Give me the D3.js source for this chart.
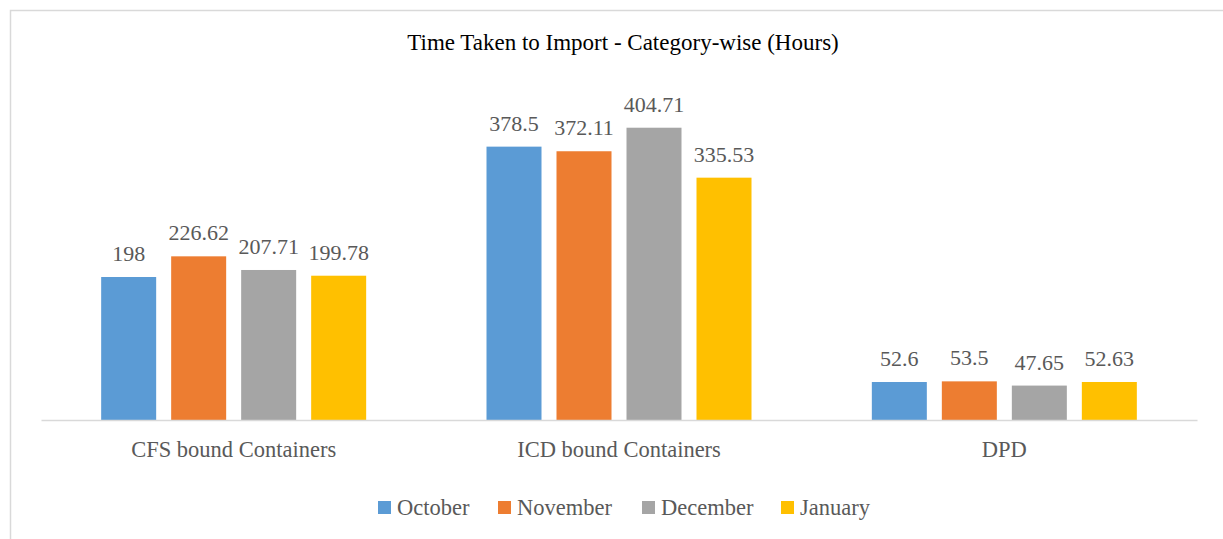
<!DOCTYPE html>
<html>
<meta charset="utf-8">
<style>
body { margin: 0; background: #fff; }
text { font-family: 'Liberation Serif', 'DejaVu Serif', serif; }
.value { fill: #595959; font-size: 22px; text-anchor: middle; }
.cat { fill: #595959; font-size: 22.5px; text-anchor: middle; }
.legend text { fill: #595959; font-size: 22.5px; }
</style>
<body>
<svg id="chart" width="1223" height="539"></svg>
<script src="https://d3js.org/d3.v7.min.js"></script>
<script>

var categories = ["CFS bound Containers", "ICD bound Containers", "DPD"];
var months = ["October", "November", "December", "January"];
var colors = ["#5b9bd5", "#ed7d31", "#a5a5a5", "#ffc000"];
// hours, one array per month, in category order
var october  = [198, 378.5, 52.6];
var november = [226.62, 372.11, 53.5];
var december = [207.71, 404.71, 47.65];
var january  = [199.78, 335.53, 52.63];
var labels = {
    October: ["198", "378.5", "52.6"],
    November: ["226.62", "372.11", "53.5"],
    December: ["207.71", "404.71", "47.65"],
    January: ["199.78", "335.53", "52.63"]
};

var series = [october, november, december, january];

var svg = d3.select("#chart"),
    margin = {left: 41, right: 26, top: 95, bottom: 119},
    width = +svg.attr("width") - margin.left - margin.right,
    height = +svg.attr("height") - margin.top - margin.bottom;

// chart area border
svg.append("rect")
    .attr("x", 10.5).attr("y", 10.5)
    .attr("width", 1230).attr("height", 560)
    .attr("fill", "none")
    .attr("stroke", "#d9d9d9")
    .attr("stroke-width", 1.5);

var x0 = d3.scaleBand().domain(categories).range([0, width]);
var x1 = d3.scaleBand().domain(months).range([0, 265]).paddingInner(15 / 70);
var y = d3.scaleLinear().domain([0, 450]).range([height, 0]);

var g = svg.append("g")
    .attr("transform", "translate(" + margin.left + "," + margin.top + ")");

var groupOffset = (x0.bandwidth() - 265) / 2;

var group = g.selectAll(".group")
    .data(categories)
    .enter().append("g")
    .attr("transform", function(d) { return "translate(" + (x0(d) + groupOffset) + ",0)"; });

group.selectAll("rect")
    .data(function(c, i) { return months.map(function(m, j) { return {m: m, v: series[j][i], l: labels[m][i], c: colors[j]}; }); })
    .enter().append("rect")
    .attr("x", function(d) { return x1(d.m); })
    .attr("y", function(d) { return y(d.v); })
    .attr("width", x1.bandwidth())
    .attr("height", function(d) { return height - y(d.v); })
    .attr("fill", function(d) { return d.c; });

group.selectAll(".value")
    .data(function(c, i) { return months.map(function(m, j) { return {m: m, v: series[j][i], l: labels[m][i]}; }); })
    .enter().append("text")
    .attr("class", "value")
    .attr("x", function(d) { return x1(d.m) + x1.bandwidth() / 2; })
    .attr("y", function(d) { return y(d.v) - 16; })
    .text(function(d) { return d.l; });

// axis
var xAxis = g.append("g")
    .attr("transform", "translate(0," + height + ")")
    .call(d3.axisBottom(x0).tickSize(0).tickPadding(21));
xAxis.select(".domain").attr("stroke", "#d9d9d9").attr("stroke-width", 1.5);
xAxis.selectAll(".tick text")
    .attr("class", "cat")
    .attr("font-family", null).attr("font-size", null).attr("fill", null)
    .attr("dy", "0.71em");

// title
svg.append("text")
    .attr("x", 623).attr("y", 50)
    .attr("text-anchor", "middle")
    .attr("fill", "#000")
    .style("font-size", "23px")
    .text("Time Taken to Import - Category-wise (Hours)");

// legend
var legendX = [378, 498, 642, 781];
var legend = svg.append("g").attr("class", "legend")
    .selectAll("g")
    .data(months)
    .enter().append("g")
    .attr("transform", function(d, i) { return "translate(" + legendX[i] + ",501)"; });

legend.append("rect")
    .attr("width", 13).attr("height", 13)
    .attr("fill", function(d, i) { return colors[i]; });

legend.append("text")
    .attr("x", 19).attr("y", 13.5)
    .text(function(d) { return d; });

</script>
</body>
</html>
